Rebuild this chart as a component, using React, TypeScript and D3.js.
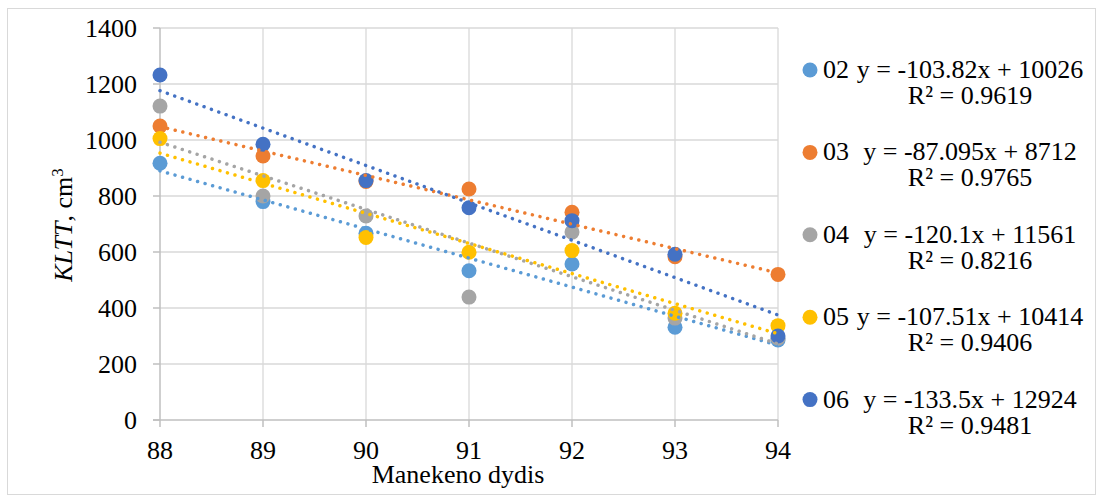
import React from "react";
import * as d3 from "d3";

// Manekeno dydis (mannequin size) on the x axis
const sizes = [88, 89, 90, 91, 92, 93, 94];
const yTicks = [0, 200, 400, 600, 800, 1000, 1200, 1400];

// KLTT values per series
const s02 = [917, 780, 667, 533, 557, 331, 286];
const s03 = [1050, 943, 852, 825, 742, 583, 520];
const s04 = [1121, 800, 729, 439, 671, 364, 292];
const s05 = [1005, 855, 652, 599, 605, 381, 337];
const s06 = [1232, 985, 855, 758, 712, 592, 300];

const seriesNames = ["02", "03", "04", "05", "06"];
const seriesValues = [s02, s03, s04, s05, s06];
const colors = ["#5B9BD5", "#ED7D31", "#A5A5A5", "#FFC000", "#4472C4"];

// linear trendlines as shown in the legend
const slopes = [-103.82, -87.095, -120.1, -107.51, -133.5];
const intercepts = [10026, 8712, 11561, 10414, 12924];
const equations = [
  "y = -103.82x + 10026",
  "y = -87.095x + 8712",
  "y = -120.1x + 11561",
  "y = -107.51x + 10414",
  "y = -133.5x + 12924",
];
const rSquared = ["0.9619", "0.9765", "0.8216", "0.9406", "0.9481"];

const width = 1101;
const height = 495;
const font = "'Liberation Serif', 'Times New Roman', serif";
const fs = 26;

export default function App() {
  const x = d3.scaleLinear().domain([88, 94]).range([160, 778]);
  const y = d3.scaleLinear().domain([0, 1400]).range([420, 28]);
  const line = d3.line();

  return (
    <svg
      width={width}
      height={height}
      style={{ position: "absolute", left: 0, top: 0, background: "#fff" }}
      fontFamily={font}
    >
      <rect x={7.5} y={8.5} width={1088} height={486} fill="#fff" stroke="#D9D9D9" />

      {/* gridlines */}
      {yTicks.slice(1).map((t) => (
        <line key={"h" + t} x1={x(88)} x2={x(94)} y1={y(t)} y2={y(t)} stroke="#D9D9D9" strokeWidth={1.3} />
      ))}
      {sizes.slice(1).map((s) => (
        <line key={"v" + s} x1={x(s)} x2={x(s)} y1={y(0)} y2={y(1400)} stroke="#D9D9D9" strokeWidth={1.3} />
      ))}

      {/* axes */}
      <line x1={x(88)} x2={x(88)} y1={y(0)} y2={y(1400)} stroke="#BFBFBF" strokeWidth={1.5} />
      <line x1={x(88) - 7} x2={x(94)} y1={y(0)} y2={y(0)} stroke="#BFBFBF" strokeWidth={1.5} />
      {yTicks.map((t) => (
        <line key={"yt" + t} x1={x(88) - 7} x2={x(88)} y1={y(t)} y2={y(t)} stroke="#BFBFBF" strokeWidth={1.5} />
      ))}
      {sizes.map((s) => (
        <line key={"xt" + s} x1={x(s)} x2={x(s)} y1={y(0)} y2={y(0) + 7} stroke="#BFBFBF" strokeWidth={1.5} />
      ))}

      {yTicks.map((t) => (
        <text key={"yl" + t} x={x(88) - 23} y={y(t) + 9} textAnchor="end" fontSize={fs} fill="#000">
          {t}
        </text>
      ))}
      {sizes.map((s) => (
        <text key={"xl" + s} x={x(s)} y={y(0) + 39} textAnchor="middle" fontSize={fs} fill="#000">
          {s}
        </text>
      ))}

      <text x={458} y={483} textAnchor="middle" fontSize={fs} fill="#000">
        Manekeno dydis
      </text>
      <text transform="translate(72,225) rotate(-90)" textAnchor="middle" fontSize={fs} fill="#000">
        <tspan fontStyle="italic">KLTT</tspan>, cm
        <tspan fontSize={17} dy={-9}>3</tspan>
      </text>

      {/* markers */}
      {seriesValues.map((vals, i) => (
        <g key={"m" + i}>
          {vals.map((v, j) => (
            <circle key={j} cx={x(sizes[j])} cy={y(v)} r={7.5} fill={colors[i]} />
          ))}
        </g>
      ))}

      {/* trendlines (dotted, drawn over the markers like Excel does) */}
      {slopes.map((m, i) => {
        const pts: [number, number][] = [88, 94].map((s) => [x(s), y(m * s + intercepts[i])]);
        return (
          <path
            key={"tl" + i}
            d={line(pts) ?? ""}
            fill="none"
            stroke={colors[i]}
            strokeWidth={3.5}
            strokeLinecap="round"
            strokeDasharray="0.01 7.8"
          />
        );
      })}

      {/* legend */}
      {seriesNames.map((name, i) => {
        const cy = 70 + i * 82.4;
        return (
          <g key={"lg" + name}>
            <circle cx={810} cy={cy} r={7.5} fill={colors[i]} />
            <text x={823} y={cy + 8} fontSize={fs} fill="#000">
              {name}
            </text>
            <text x={970} y={cy + 8} textAnchor="middle" fontSize={fs} fill="#000">
              {equations[i]}
            </text>
            <text x={970} y={cy + 34} textAnchor="middle" fontSize={fs} fill="#000">
              R² = {rSquared[i]}
            </text>
          </g>
        );
      })}
    </svg>
  );
}
